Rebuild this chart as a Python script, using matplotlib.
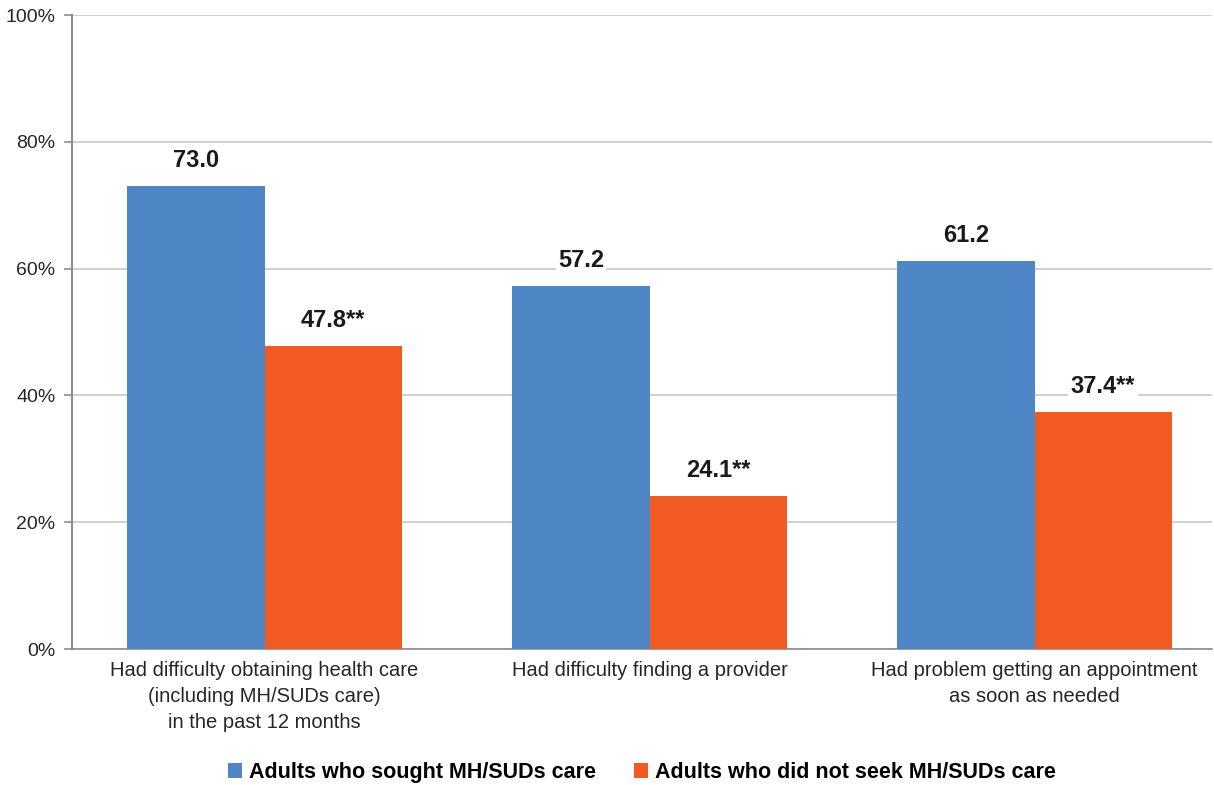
import matplotlib.pyplot as plt
import numpy as np
from matplotlib import font_manager

categories = ["Had difficulty obtaining health care\n(including MH/SUDs care)\nin the past 12 months",
              "Had difficulty finding a provider",
              "Had problem getting an appointment\nas soon as needed"]
sought = [73.0, 57.2, 61.2]
not_sought = [47.8, 24.1, 37.4]
sought_labels = ["73.0", "57.2", "61.2"]
not_sought_labels = ["47.8**", "24.1**", "37.4**"]
series_names = ["Adults who sought MH/SUDs care", "Adults who did not seek MH/SUDs care"]
yticks = [0, 20, 40, 60, 80, 100]

names = {f.name for f in font_manager.fontManager.ttflist}
fam = ['Liberation Sans Narrow', 'Liberation Sans', 'DejaVu Sans'] if 'Liberation Sans Narrow' in names else ['Liberation Sans', 'DejaVu Sans']
plt.rcParams['font.family'] = fam

blue = '#4F86C6'
orange = '#F15A22'
grid_c = '#C8C8C8'
spine_c = '#8C8C8C'

fig = plt.figure(figsize=(12.14, 7.85), dpi=100)
ax = fig.add_axes([72 / 1214, 1 - 649 / 785, 1140 / 1214, 634 / 785])

x = np.arange(len(categories))
w = 0.356
b1 = ax.bar(x - w / 2, sought, w, color=blue, label=series_names[0], zorder=3)
b2 = ax.bar(x + w / 2, not_sought, w, color=orange, label=series_names[1], zorder=3)

for bars, labs in [(b1, sought_labels), (b2, not_sought_labels)]:
    for r, lab in zip(bars, labs):
        ax.annotate(lab, (r.get_x() + r.get_width() / 2, r.get_height()),
                    xytext=(0, 10), textcoords='offset points', ha='center', va='bottom',
                    fontsize=17, fontweight='bold', color='#1a1a1a', zorder=5,
                    bbox=dict(boxstyle='square,pad=0.1', fc='white', ec='none'))

ax.set_xlim(-0.5, 2.461)
ax.set_ylim(0, 100)
ax.set_yticks(yticks)
ax.set_yticklabels([f"{v}%" for v in yticks], fontsize=14, color='#262626')
ax.yaxis.grid(True, color=grid_c, linewidth=1.2, zorder=0)
ax.set_xticks(x)
ax.set_xticklabels(categories, fontsize=14.5, color='#262626', linespacing=1.45)
ax.tick_params(axis='x', length=0, pad=9)
ax.tick_params(axis='y', length=6, color=spine_c, width=1.2, pad=6)
for s in ['top', 'right']:
    ax.spines[s].set_visible(False)
ax.spines['left'].set_color(spine_c)
ax.spines['left'].set_linewidth(1.5)
ax.spines['bottom'].set_color(spine_c)
ax.spines['bottom'].set_linewidth(1.2)

ax.legend(loc='center', bbox_to_anchor=(0.5, -0.195), ncol=2, frameon=False,
          prop={'size': 15.5, 'weight': 'bold'}, handlelength=0.65, handleheight=0.65,
          handletextpad=0.3, columnspacing=1.8)

fig.savefig('out.png', dpi=100)
